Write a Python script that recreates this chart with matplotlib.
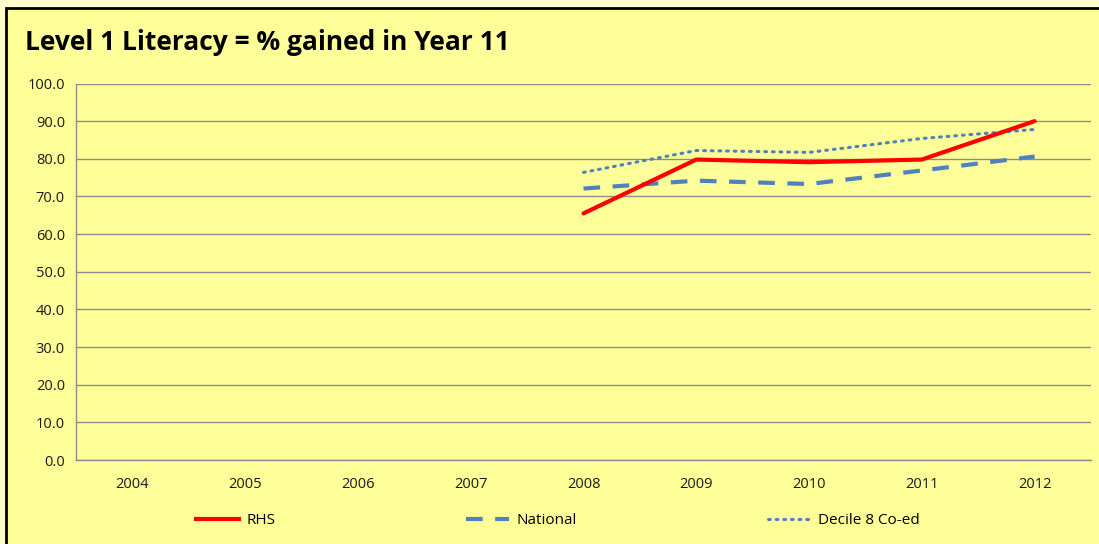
import matplotlib
matplotlib.use("Agg")
import matplotlib.pyplot as plt
from matplotlib.patches import Rectangle
from matplotlib.lines import Line2D

years = ["2004", "2005", "2006", "2007", "2008", "2009", "2010", "2011", "2012"]
rhs_years = [4, 5, 6, 7, 8]
rhs = [65.5, 79.8, 79.1, 79.8, 90.0]
national = [72.1, 74.2, 73.3, 76.9, 80.6]
decile8 = [76.4, 82.2, 81.7, 85.4, 87.8]

yticks = [0, 10, 20, 30, 40, 50, 60, 70, 80, 90, 100]

BG_OUT = "#FFFFCC"
BG_CHART = "#FFFF99"
BLUE = "#4F81BD"
TEXT = "#1A1A1A"
plt.rcParams["font.family"] = ["Open Sans", "DejaVu Sans"]

fig = plt.figure(figsize=(10.99, 5.44), dpi=100)
fig.patch.set_facecolor(BG_OUT)

# chart area with black frame
W, H = 1099, 544
fig.patches.append(Rectangle((6 / W, -0.05), 1.1, (H - 8) / H + 0.05,
                             transform=fig.transFigure, facecolor=BG_CHART,
                             edgecolor="black", linewidth=2, zorder=-1))

ax = fig.add_axes([76 / W, 1 - 460 / H, (1091 - 76) / W, (460 - 83.5) / H])
ax.set_zorder(1)
ax.set_facecolor(BG_CHART)

x = list(range(len(years)))
ax.plot(rhs_years, rhs, color="#FF0000", lw=3, solid_capstyle="round", zorder=4)
ax.plot(rhs_years, national, color=BLUE, lw=3, dashes=(4, 3), zorder=3)
ax.plot(rhs_years, decile8, color=BLUE, lw=2.2, linestyle=(0, (0.6, 1.9)),
        dash_capstyle="round", zorder=3)

ax.set_xlim(-0.5, 8.5)
ax.set_ylim(0, 100)
ax.set_yticks(yticks)
ax.set_yticklabels([f"{v:.1f}" for v in yticks], fontsize=10.5, color=TEXT)
ax.set_xticks(x)
ax.set_xticklabels(years, fontsize=10.5, color=TEXT)
ax.tick_params(axis="both", length=0, pad=8)
ax.tick_params(axis="x", pad=12)
ax.grid(axis="y", color="#8C8C8C", lw=1)
ax.set_axisbelow(True)
for s in ["top", "right"]:
    ax.spines[s].set_visible(False)
for s in ["left", "bottom"]:
    ax.spines[s].set_color("#8C8C8C")
    ax.spines[s].set_linewidth(1)

fig.text(25 / W, 1 - 43 / H, "Level 1 Literacy = % gained in Year 11",
         fontsize=19, fontweight="bold", color="black", va="center", ha="left")

handles = [
    Line2D([], [], color="#FF0000", lw=3),
    Line2D([], [], color=BLUE, lw=3, dashes=(4, 3)),
    Line2D([], [], color=BLUE, lw=2.2, linestyle=(0, (0.6, 1.9)), dash_capstyle="round"),
]
fig.legend(handles, ["RHS", "National", "Decile 8 Co-ed"], loc="center",
           bbox_to_anchor=(558 / W, 1 - 521 / H), ncol=3, frameon=False,
           fontsize=11, columnspacing=12.5, handlelength=2.8, handletextpad=0.5)

fig.savefig("out.png", dpi=100, facecolor=fig.get_facecolor())
